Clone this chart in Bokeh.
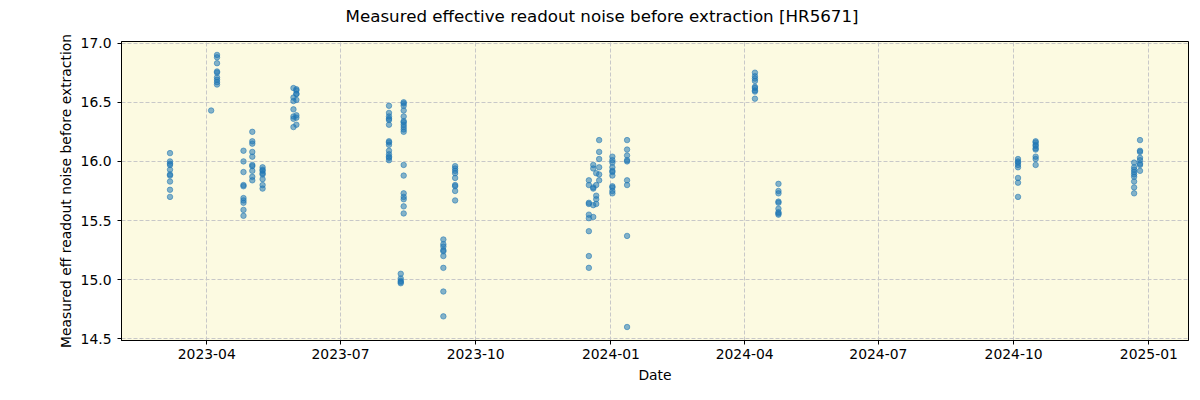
import datetime as dt
from bokeh.plotting import figure
from bokeh.models import ColumnDataSource, FixedTicker, DatetimeTickFormatter, Range1d, PrintfTickFormatter, Title
from bokeh.embed import file_html
from bokeh.resources import INLINE

# ---- data ----
group_dates = [
    "2023-03-07", "2023-04-04", "2023-04-08", "2023-04-26", "2023-05-02", "2023-05-09",
    "2023-05-30", "2023-06-01", "2023-08-03", "2023-08-11", "2023-08-13", "2023-09-09",
    "2023-09-17", "2023-12-17", "2023-12-20", "2023-12-22", "2023-12-24", "2024-01-02",
    "2024-01-12", "2024-04-08", "2024-04-24", "2024-10-04", "2024-10-16", "2024-12-22",
    "2024-12-26",
]
group_values = [
    [16.07, 16.00, 15.98, 15.97, 15.93, 15.89, 15.88, 15.83, 15.76, 15.70],
    [16.43],
    [16.90, 16.88, 16.83, 16.76, 16.75, 16.71, 16.69, 16.67, 16.65],
    [16.09, 16.00, 15.91, 15.80, 15.79, 15.69, 15.67, 15.65, 15.59, 15.54],
    [16.25, 16.17, 16.15, 16.08, 16.04, 15.97, 15.96, 15.92, 15.87, 15.84],
    [15.95, 15.93, 15.92, 15.90, 15.89, 15.85, 15.80, 15.77],
    [16.62, 16.54, 16.51, 16.44, 16.38, 16.36, 16.29],
    [16.61, 16.60, 16.57, 16.57, 16.52, 16.39, 16.37, 16.31],
    [16.47, 16.41, 16.38, 16.36, 16.35, 16.31, 16.17, 16.16, 16.14, 16.09, 16.06, 16.04, 16.03, 16.01],
    [15.05, 15.01, 14.99, 14.98, 14.97],
    [16.50, 16.49, 16.47, 16.43, 16.38, 16.34, 16.33, 16.31, 16.29, 16.27, 16.25,
     15.97, 15.88, 15.73, 15.70, 15.68, 15.62, 15.56],
    [15.34, 15.30, 15.28, 15.25, 15.24, 15.20, 15.10, 14.90, 14.69],
    [15.96, 15.94, 15.92, 15.90, 15.86, 15.80, 15.79, 15.75, 15.67],
    [15.84, 15.80, 15.65, 15.64, 15.55, 15.52, 15.41, 15.20, 15.10],
    [15.97, 15.94, 15.78, 15.77, 15.63, 15.53],
    [15.90, 15.80, 15.71, 15.68, 15.64],
    [16.18, 16.08, 16.02, 15.95, 15.89, 15.84],
    [16.04, 16.01, 15.99, 15.95, 15.92, 15.91, 15.88, 15.79, 15.78, 15.75, 15.73],
    [16.18, 16.10, 16.05, 16.01, 16.00, 15.84, 15.80, 15.37, 14.60],
    [16.75, 16.72, 16.70, 16.68, 16.63, 16.62, 16.60, 16.59, 16.53],
    [15.81, 15.75, 15.73, 15.66, 15.65, 15.60, 15.57, 15.56, 15.55],
    [16.02, 16.00, 15.99, 15.97, 15.95, 15.86, 15.82, 15.70],
    [16.17, 16.16, 16.14, 16.13, 16.11, 16.10, 16.04, 16.02, 15.97],
    [15.99, 15.95, 15.93, 15.91, 15.89, 15.87, 15.83, 15.78, 15.73],
    [16.18, 16.09, 16.08, 16.03, 16.01, 15.98, 15.97, 15.92],
]
x_tick_labels = ["2023-04", "2023-07", "2023-10", "2024-01", "2024-04", "2024-07", "2024-10", "2025-01"]
y_ticks = [14.5, 15.0, 15.5, 16.0, 16.5, 17.0]
title_text = "Measured effective readout noise before extraction [HR5671]"

# ---- build source ----
xs, ys = [], []
for d, vals in zip(group_dates, group_values):
    t = dt.datetime.strptime(d, "%Y-%m-%d")
    for v in vals:
        xs.append(t)
        ys.append(v)
src = ColumnDataSource(dict(x=xs, y=ys))

epoch = dt.datetime(1970, 1, 1)
def to_ms(s):
    return (dt.datetime.strptime(s + "-01", "%Y-%m-%d") - epoch).total_seconds() * 1000.0

FONT = "DejaVu Sans"

p = figure(
    width=1200, height=400,
    title=None,
    x_axis_type="datetime",
    x_range=Range1d(dt.datetime(2023, 2, 2), dt.datetime(2025, 1, 28)),
    y_range=Range1d(14.486, 17.0135),
    output_backend="svg", toolbar_location=None,
    min_border_left=121, min_border_right=12, min_border_top=41, min_border_bottom=60,
    background_fill_color="#ffffff", border_fill_color="#ffffff",
)

# spacer panel (closest to frame) then the real title above it
spacer = Title(text=" ", text_font=FONT, text_font_size="5px", standoff=8)
p.add_layout(spacer, "above")
main_title = Title(text=title_text, align="left", offset=224, text_font=FONT,
                   text_font_size="16.7px", text_font_style="normal", text_color="black",
                   standoff=0)
p.add_layout(main_title, "above")

p.background_fill_color = "#fcfae1"
p.outline_line_color = "black"
p.outline_line_width = 1

p.scatter("x", "y", source=src, size=5.5, fill_color="#1f77b4", line_color="#1f77b4",
          fill_alpha=0.55, line_alpha=0.55)

p.xaxis.ticker = FixedTicker(ticks=[to_ms(s) for s in x_tick_labels])
p.xaxis.formatter = DatetimeTickFormatter(days="%Y-%m", months="%Y-%m", years="%Y-%m")
p.yaxis.ticker = FixedTicker(ticks=y_ticks)
p.yaxis.formatter = PrintfTickFormatter(format="%.1f")

p.xaxis.axis_label = "Date"
p.yaxis.axis_label = "Measured eff readout noise before extraction"

for ax in (p.xaxis, p.yaxis):
    ax.axis_label_text_font = FONT
    ax.axis_label_text_font_size = "13.9px"
    ax.axis_label_text_font_style = "normal"
    ax.axis_label_text_color = "black"
    ax.major_label_text_font = FONT
    ax.major_label_text_font_size = "13.9px"
    ax.major_label_text_color = "black"
    ax.major_tick_out = 4
    ax.major_tick_in = 0
    ax.minor_tick_line_color = None
    ax.major_tick_line_color = "black"
    ax.axis_line_color = "black"

p.xaxis.major_label_standoff = 4
p.yaxis.major_label_standoff = 6
p.xaxis.axis_label_standoff = 5
p.yaxis.axis_label_standoff = 4

p.grid.grid_line_color = "#c8c8c8"
p.grid.grid_line_dash = "4 2"
p.grid.grid_line_width = 1

open("out.html", "w").write(file_html(p, INLINE))
